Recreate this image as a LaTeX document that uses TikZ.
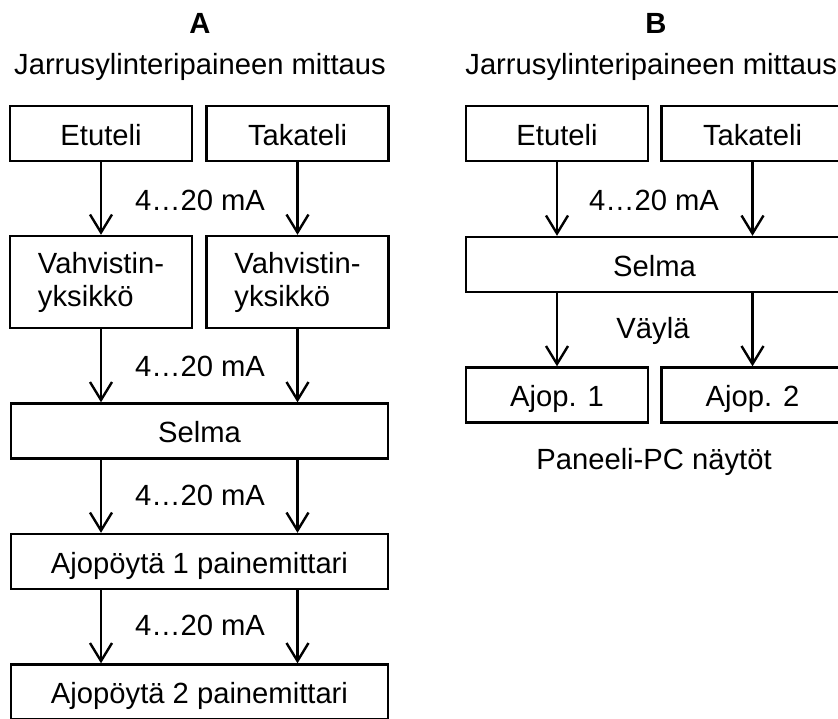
\documentclass[tikz,border=0pt]{standalone}
\usepackage{fontspec}
\setmainfont{Liberation Sans}
\usetikzlibrary{positioning, arrows.meta}

\tikzset{
    box/.style={draw, line width=1.2pt, minimum height=27.5pt, inner sep=0pt,
        text height=11.5pt, text depth=0pt},
    halfbox/.style={box, minimum width=91pt},
    widebox/.style={box, minimum width=188.5pt},
    vahbox/.style={draw, line width=1.2pt, minimum width=91pt, minimum height=46pt,
        inner sep=0pt, align=left},
    flow/.style={-{Straight Barb[length=9pt,width=11pt]}, line width=1.2pt},
    lbl/.style={inner sep=0pt, anchor=base}
}

\begin{document}
\begin{tikzpicture}[x=0.5pt, y=-0.5pt, font=\fontsize{14.6}{16.5}\selectfont]
    \useasboundingbox (0,0) rectangle (838,718);
    \clip (0,0) rectangle (838,718);

    % A
    \node[lbl, font=\fontsize{14.6}{16.5}\selectfont\bfseries] (headA) at (200,33) {A};
    \node[lbl] (titleA) at (200,74) {Jarrusylinteripaineen mittaus};

    \node[halfbox] (etuA)  at (101,133.5)   {Etuteli};
    \node[halfbox] (takaA) at (297.5,133.5) {Takateli};
    \node[vahbox]  (vahA1) at (101,282)     {Vahvistin-\\yksikkö};
    \node[vahbox]  (vahA2) at (297.5,282)   {Vahvistin-\\yksikkö};
    \node[widebox] (selmaA) at (199.5,431)  {Selma};
    \node[widebox] (ajo1A) at (199.5,561.5) {Ajopöytä 1 painemittari};
    \node[widebox] (ajo2A) at (199.5,692)   {Ajopöytä 2 painemittari};

    \draw[flow] (etuA) -- (vahA1);
    \draw[flow] (takaA) -- (vahA2);
    \foreach \col in {vahA1, vahA2}
    {
        \draw[flow] (\col) -- (\col |- selmaA.north);
        \draw[flow] (\col |- selmaA.south) -- (\col |- ajo1A.north);
        \draw[flow] (\col |- ajo1A.south) -- (\col |- ajo2A.north);
    }

    \node[lbl] (maA1) at (200,210) {4…20 mA};
    \node[lbl] (maA2) at (200,376) {4…20 mA};
    \node[lbl] (maA3) at (200,505) {4…20 mA};
    \node[lbl] (maA4) at (200,635) {4…20 mA};

    % B
    \node[lbl, font=\fontsize{14.6}{16.5}\selectfont\bfseries] (headB) at (656,33) {B};
    \node[lbl, anchor=base west] (titleB) at (465,74) {Jarrusylinteripaineen mittaus};

    \node[halfbox] (etuB)  at (557,133.5)   {Etuteli};
    \node[halfbox] (takaB) at (752.5,133.5) {Takateli};
    \node[widebox] (selmaB) at (654.5,264.5) {Selma};
    \node[halfbox] (ajo1B) at (557,395)     {Ajop. 1};
    \node[halfbox] (ajo2B) at (752.5,395)   {Ajop. 2};

    \foreach \col/\dest in {etuB/ajo1B, takaB/ajo2B}
    {
        \draw[flow] (\col) -- (\col |- selmaB.north);
        \draw[flow] (\col |- selmaB.south) -- (\dest);
    }

    \node[lbl] (maB) at (654,210) {4…20 mA};
    \node[lbl] (vaylaB) at (653,338) {Väylä};
    \node[lbl] (panelB) at (654,469) {Paneeli-PC näytöt};
\end{tikzpicture}
\end{document}
